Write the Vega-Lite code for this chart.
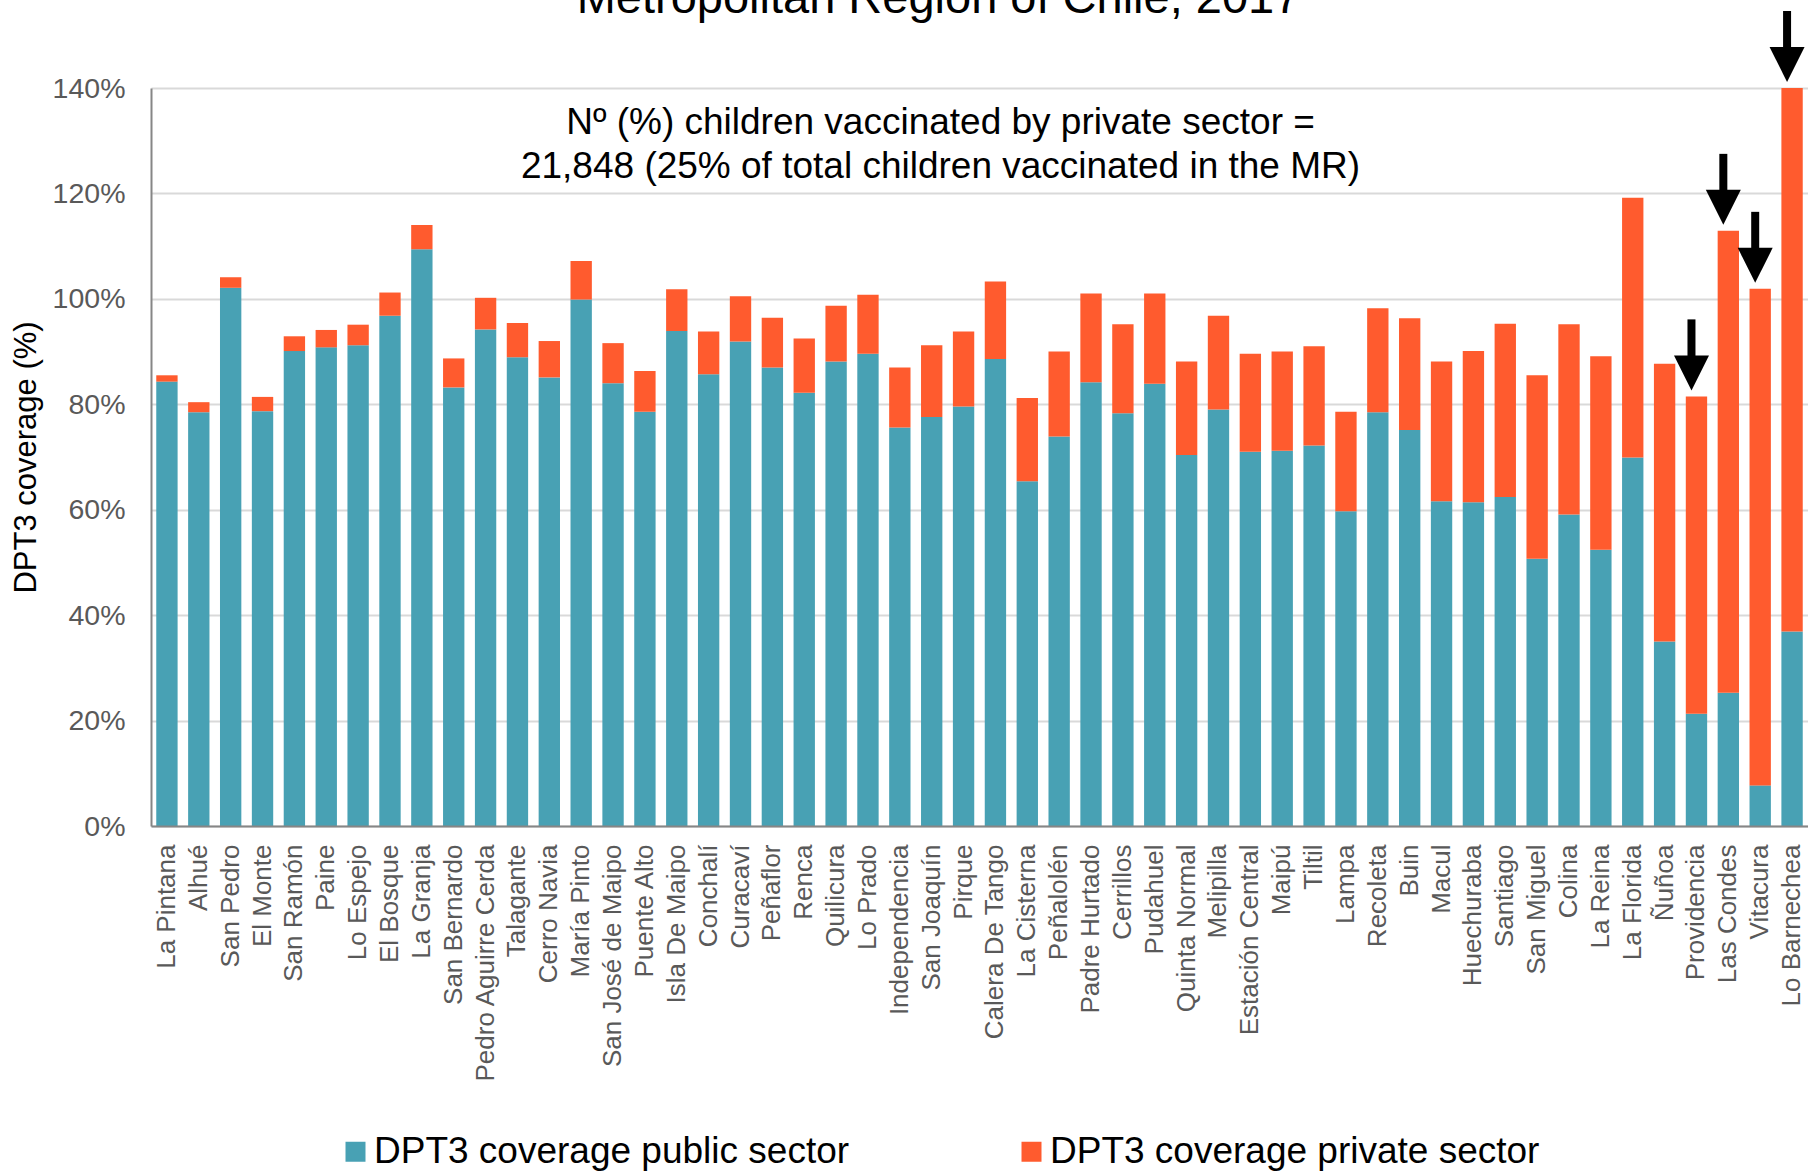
{
  "$schema": "https://vega.github.io/schema/vega-lite/v6.json",
  "width": 1657,
  "height": 738,
  "autosize": {"type": "none"},
  "padding": {"left": 151, "top": 88, "right": 0, "bottom": 345},
  "background": "#ffffff",
  "config": {"font": "Liberation Sans", "view": {"stroke": null}},
  "title": {
    "text": "Metropolitan Region of Chile, 2017",
    "fontSize": 47,
    "fontWeight": "normal",
    "color": "#000000",
    "frame": "group",
    "anchor": "middle",
    "baseline": "alphabetic",
    "offset": -53,
    "dx": -41
  },
  "datasets": {
    "coverage": [
      {"comuna": "La Pintana", "public": 84.3, "private": 1.2},
      {"comuna": "Alhué", "public": 78.5, "private": 1.9},
      {"comuna": "San Pedro", "public": 102.1, "private": 2.0},
      {"comuna": "El Monte", "public": 78.7, "private": 2.7},
      {"comuna": "San Ramón", "public": 90.1, "private": 2.8},
      {"comuna": "Paine", "public": 90.8, "private": 3.3},
      {"comuna": "Lo Espejo", "public": 91.2, "private": 3.9},
      {"comuna": "El Bosque", "public": 96.8, "private": 4.4},
      {"comuna": "La Granja", "public": 109.4, "private": 4.6},
      {"comuna": "San Bernardo", "public": 83.2, "private": 5.5},
      {"comuna": "Pedro Aguirre Cerda", "public": 94.2, "private": 6.0},
      {"comuna": "Talagante", "public": 88.9, "private": 6.5},
      {"comuna": "Cerro Navia", "public": 85.1, "private": 6.9},
      {"comuna": "María Pinto", "public": 99.9, "private": 7.3},
      {"comuna": "San José  de Maipo", "public": 84.0, "private": 7.6},
      {"comuna": "Puente Alto", "public": 78.6, "private": 7.7},
      {"comuna": "Isla De Maipo", "public": 93.9, "private": 7.9},
      {"comuna": "Conchalí", "public": 85.7, "private": 8.1},
      {"comuna": "Curacaví", "public": 91.9, "private": 8.6},
      {"comuna": "Peñaflor", "public": 87.0, "private": 9.4},
      {"comuna": "Renca", "public": 82.2, "private": 10.3},
      {"comuna": "Quilicura", "public": 88.1, "private": 10.6},
      {"comuna": "Lo Prado", "public": 89.6, "private": 11.2},
      {"comuna": "Independencia", "public": 75.6, "private": 11.4},
      {"comuna": "San Joaquín", "public": 77.6, "private": 13.6},
      {"comuna": "Pirque", "public": 79.6, "private": 14.2},
      {"comuna": "Calera De Tango", "public": 88.6, "private": 14.7},
      {"comuna": "La Cisterna", "public": 65.4, "private": 15.8},
      {"comuna": "Peñalolén", "public": 73.9, "private": 16.1},
      {"comuna": "Padre Hurtado", "public": 84.2, "private": 16.8},
      {"comuna": "Cerrillos", "public": 78.3, "private": 16.9},
      {"comuna": "Pudahuel", "public": 83.9, "private": 17.1},
      {"comuna": "Quinta Normal", "public": 70.4, "private": 17.7},
      {"comuna": "Melipilla", "public": 79.0, "private": 17.8},
      {"comuna": "Estación Central", "public": 71.0, "private": 18.6},
      {"comuna": "Maipú", "public": 71.2, "private": 18.8},
      {"comuna": "Tiltil", "public": 72.2, "private": 18.8},
      {"comuna": "Lampa", "public": 59.7, "private": 18.9},
      {"comuna": "Recoleta", "public": 78.5, "private": 19.7},
      {"comuna": "Buin", "public": 75.1, "private": 21.2},
      {"comuna": "Macul", "public": 61.6, "private": 26.5},
      {"comuna": "Huechuraba", "public": 61.4, "private": 28.7},
      {"comuna": "Santiago", "public": 62.4, "private": 32.9},
      {"comuna": "San Miguel", "public": 50.7, "private": 34.8},
      {"comuna": "Colina", "public": 59.1, "private": 36.1},
      {"comuna": "La Reina", "public": 52.4, "private": 36.7},
      {"comuna": "La Florida", "public": 69.9, "private": 49.3},
      {"comuna": "Ñuñoa", "public": 35.0, "private": 52.7},
      {"comuna": "Providencia", "public": 21.3, "private": 60.2},
      {"comuna": "Las Condes", "public": 25.3, "private": 87.6},
      {"comuna": "Vitacura", "public": 7.7, "private": 94.2},
      {"comuna": "Lo Barnechea", "public": 36.9, "private": 103.1}
    ]
  },
  "data": {"name": "coverage"},
  "layer": [
    {
      "transform": [{"fold": ["public", "private"], "as": ["sector", "coverage"]}],
      "mark": {"type": "bar", "clip": true},
      "encoding": {
        "x": {
          "field": "comuna",
          "type": "nominal",
          "sort": null,
          "scale": {"paddingInner": 0.33, "paddingOuter": 0.165},
          "axis": {
            "title": null,
            "labelAngle": -90,
            "labelFontSize": 26,
            "labelColor": "#595959",
            "labelPadding": 18,
            "labelLimit": 400,
            "ticks": false,
            "tickSize": 0,
            "domainColor": "#868686",
            "domainWidth": 2,
            "grid": false,
            "zindex": 1
          }
        },
        "y": {
          "field": "coverage",
          "type": "quantitative",
          "stack": "zero",
          "scale": {"domain": [0, 140], "nice": false},
          "axis": {
            "title": "DPT3 coverage (%)",
            "titleFontSize": 31,
            "titleFontWeight": "normal",
            "titleColor": "#000000",
            "titlePadding": 10,
            "values": [0, 20, 40, 60, 80, 100, 120, 140],
            "labelExpr": "datum.value + '%'",
            "labelFontSize": 28.5,
            "labelColor": "#595959",
            "labelPadding": 26,
            "labelFlush": false,
            "ticks": false,
            "tickSize": 0,
            "domainColor": "#868686",
            "domainWidth": 2,
            "gridColor": "#D9D9D9",
            "gridWidth": 2
          }
        },
        "color": {
          "field": "sector",
          "type": "nominal",
          "scale": {"domain": ["public", "private"], "range": ["#48A1B4", "#FF5B2E"]},
          "legend": {
            "title": null,
            "orient": "none",
            "legendX": 186,
            "legendY": 1045,
            "direction": "horizontal",
            "symbolType": "square",
            "symbolSize": 400,
            "symbolStrokeWidth": 0,
            "labelFontSize": 37,
            "labelColor": "#000000",
            "labelOffset": 0,
            "labelLimit": 1000,
            "columnPadding": 163,
            "padding": 0,
            "labelExpr": "datum.label == 'public' ? 'DPT3 coverage public sector' : 'DPT3 coverage private sector'"
          }
        },
        "order": {"field": "sector", "sort": "descending"}
      }
    },
    {
      "data": {"values": [{"note": "Nº (%) children vaccinated by private sector =\n21,848 (25% of total children vaccinated in the MR)"}]},
      "mark": {
        "type": "text",
        "fontSize": 37,
        "color": "#000000",
        "align": "center",
        "baseline": "alphabetic",
        "lineBreak": "\n",
        "lineHeight": 44,
        "dx": -39
      },
      "encoding": {
        "text": {"field": "note", "type": "nominal"},
        "y": {"datum": 131.2, "type": "quantitative"}
      }
    },
    {
      "transform": [
        {"fold": ["public", "private"], "as": ["sector", "coverage"]},
        {"filter": {"field": "comuna", "oneOf": ["Providencia", "Las Condes", "Vitacura", "Lo Barnechea"]}},
        {"aggregate": [{"op": "sum", "field": "coverage", "as": "total"}], "groupby": ["comuna"]}
      ],
      "mark": {"type": "rule", "color": "#000000", "strokeWidth": 8, "xOffset": -5, "yOffset": -77, "y2Offset": -38},
      "encoding": {
        "x": {"field": "comuna", "type": "nominal", "sort": null},
        "y": {"field": "total", "type": "quantitative"},
        "y2": {"field": "total"}
      }
    },
    {
      "transform": [
        {"fold": ["public", "private"], "as": ["sector", "coverage"]},
        {"filter": {"field": "comuna", "oneOf": ["Providencia", "Las Condes", "Vitacura", "Lo Barnechea"]}},
        {"aggregate": [{"op": "sum", "field": "coverage", "as": "total"}], "groupby": ["comuna"]}
      ],
      "mark": {
        "type": "point",
        "shape": "M-1,-1L1,-1L0,1Z",
        "size": 1225,
        "filled": true,
        "opacity": 1,
        "color": "#000000",
        "strokeWidth": 0,
        "xOffset": -5,
        "yOffset": -23.5
      },
      "encoding": {
        "x": {"field": "comuna", "type": "nominal", "sort": null},
        "y": {"field": "total", "type": "quantitative"}
      }
    }
  ]
}
